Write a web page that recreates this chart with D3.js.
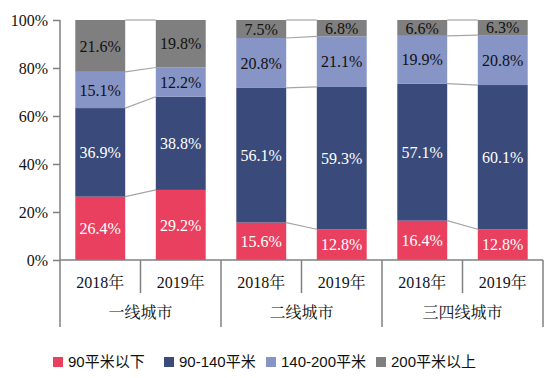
<!DOCTYPE html>
<html><head><meta charset="utf-8">
<script src="https://cdn.jsdelivr.net/npm/d3@7"></script>
<style>body{margin:0;background:#fff}</style>
</head><body>
<script>
const groups = ["一线城市", "二线城市", "三四线城市"];
const years = ["2018年", "2019年"];
const seriesNames = ["90平米以下", "90-140平米", "140-200平米", "200平米以上"];
const seriesColors = ["#E9405F", "#394A7B", "#8794C6", "#7F7F7F"];
const labelColors = ["#fff", "#fff", "#111", "#111"];
// values per bar: [group][year] -> series values (%)
const s90 = [26.4, 29.2, 15.6, 12.8, 16.4, 12.8];
const s90_140 = [36.9, 38.8, 56.1, 59.3, 57.1, 60.1];
const s140_200 = [15.1, 12.2, 20.8, 21.1, 19.9, 20.8];
const s200 = [21.6, 19.8, 7.5, 6.8, 6.6, 6.3];
const yTicks = [0, 20, 40, 60, 80, 100];

const W = 557, H = 378;
const svg = d3.select("body").append("svg").attr("width", W).attr("height", H);
const serif = "'Liberation Serif','Times New Roman','Noto Serif CJK SC','Noto Sans CJK SC',serif";
const sans = "'Liberation Sans','Noto Sans CJK SC',sans-serif";

const bars = [];
groups.forEach((g, gi) => years.forEach((yr, yi) => bars.push({g, yr, i: gi * 2 + yi})));
const series = [s90, s90_140, s140_200, s200];

const x = d3.scaleBand().domain(bars.map(b => b.i)).range([60, 543]).padding(0);
const barW = x.bandwidth() * 0.62;
const y = d3.scaleLinear().domain([0, 100]).range([260, 20]);

// stacking
const stacked = bars.map(b => {
  let acc = 0;
  return series.map((s, si) => { const v = s[b.i]; const seg = {si, v, y0: acc, y1: acc + v}; acc += v; return seg; });
});

// connector lines
const conn = svg.append("g");
for (let gi = 0; gi < groups.length; gi++) {
  const a = gi * 2, b = gi * 2 + 1;
  for (let si = 0; si < 4; si++) {
    const ya = si === 3 ? 100 : stacked[a][si].y1;
    const yb = si === 3 ? 100 : stacked[b][si].y1;
    conn.append("line")
      .attr("x1", x(a) + (x.bandwidth() + barW) / 2).attr("x2", x(b) + (x.bandwidth() - barW) / 2)
      .attr("y1", y(ya)).attr("y2", y(yb))
      .attr("stroke", "#A6A6A6").attr("stroke-width", 1.2);
  }
}

// bars
const bg = svg.append("g").selectAll("g").data(bars).join("g");
bg.selectAll("rect").data(b => stacked[b.i].map(s => ({...s, i: b.i}))).join("rect")
  .attr("x", d => x(d.i) + (x.bandwidth() - barW) / 2)
  .attr("width", barW)
  .attr("y", d => y(d.y1))
  .attr("height", d => y(d.y0) - y(d.y1))
  .attr("fill", d => seriesColors[d.si]);
bg.selectAll("text").data(b => stacked[b.i].map(s => ({...s, i: b.i}))).join("text")
  .attr("x", d => x(d.i) + x.bandwidth() / 2)
  .attr("y", d => (y(d.y0) + y(d.y1)) / 2)
  .attr("dy", "0.35em")
  .attr("text-anchor", "middle")
  .attr("font-family", serif).attr("font-size", 16)
  .attr("fill", d => labelColors[d.si])
  .text(d => d.v.toFixed(1) + "%");

// y axis
const yAxis = svg.append("g").attr("transform", "translate(60,0)")
  .call(d3.axisLeft(y).tickValues(yTicks).tickFormat(d => d + "%").tickSize(7).tickPadding(5));
yAxis.select(".domain").attr("stroke", "#808080").attr("stroke-width", 1.5).attr("d", `M0,${y(100)}V${y(0)}`);
yAxis.selectAll(".tick line").attr("stroke", "#808080").attr("stroke-width", 1.5);
yAxis.selectAll(".tick text").attr("font-family", serif).attr("font-size", 16).attr("fill", "#111");

// x axis (hierarchical)
const xa = svg.append("g");
xa.append("line").attr("x1", 60).attr("x2", 543).attr("y1", 260).attr("y2", 260)
  .attr("stroke", "#808080").attr("stroke-width", 1.5);
bars.forEach(b => {
  xa.append("text").attr("x", x(b.i) + x.bandwidth() / 2).attr("y", 282).attr("dy", "0.35em")
    .attr("text-anchor", "middle").attr("font-family", serif).attr("font-size", 16).attr("fill", "#111")
    .text(b.yr);
  if (b.i % 2 === 1) {
    xa.append("line").attr("x1", x(b.i)).attr("x2", x(b.i)).attr("y1", 260).attr("y2", 293)
      .attr("stroke", "#808080").attr("stroke-width", 1.5);
  }
});
groups.forEach((g, gi) => {
  const x0 = x(gi * 2), x1 = x(gi * 2 + 1) + x.bandwidth();
  xa.append("text").attr("x", (x0 + x1) / 2).attr("y", 312).attr("dy", "0.35em")
    .attr("text-anchor", "middle").attr("font-family", serif).attr("font-size", 16).attr("fill", "#111")
    .text(g);
});
[0, 2, 4].forEach(i => xa.append("line").attr("x1", x(i)).attr("x2", x(i)).attr("y1", 260).attr("y2", 327)
  .attr("stroke", "#808080").attr("stroke-width", 1.5));
xa.append("line").attr("x1", 543).attr("x2", 543).attr("y1", 260).attr("y2", 327)
  .attr("stroke", "#808080").attr("stroke-width", 1.5);

// legend
const legX = [53, 164, 266, 376];
const leg = svg.append("g");
seriesNames.forEach((n, i) => {
  leg.append("rect").attr("x", legX[i]).attr("y", 357).attr("width", 10).attr("height", 10).attr("fill", seriesColors[i]);
  leg.append("text").attr("x", legX[i] + 15).attr("y", 362).attr("dy", "0.35em")
    .attr("font-family", sans).attr("font-size", 15).attr("fill", "#111").text(n);
});
</script>
</body></html>
